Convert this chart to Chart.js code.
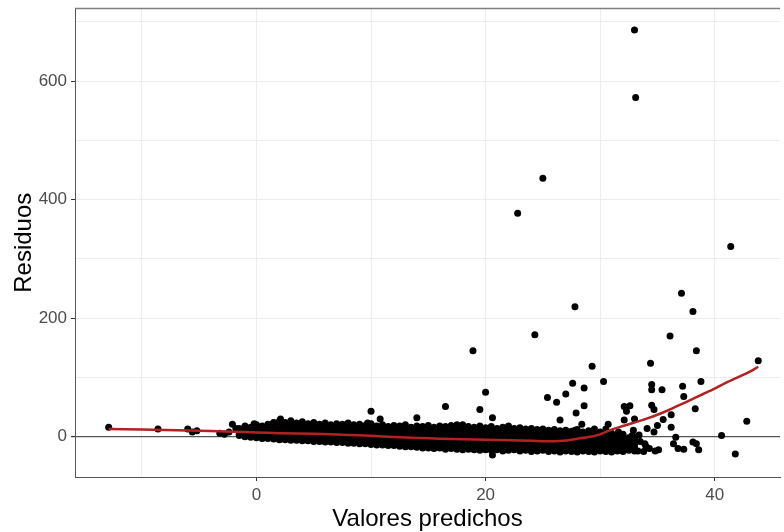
<!DOCTYPE html>
<html>
<head>
<meta charset="utf-8">
<script src="https://cdn.jsdelivr.net/npm/chart.js@4.4.1/dist/chart.umd.min.js"></script>
<style>
    html, body { margin: 0; padding: 0; background: #fff; }
</style>
</head>
<body>
<canvas id="residualChart" width="784" height="532"></canvas>
<script>
// ticks and grid
const xGridValues = [-10, 0, 10, 20, 30, 40];
const xTickLabels = [0, 20, 40];
const yGridValues = [0, 100, 200, 300, 400, 500, 600, 700];
const yTickLabels = [0, 200, 400, 600];

// dense band of residuals
const bandX = [-1.5, -1, -0.5, 0, 0.5, 1, 1.5, 2, 2.5, 3,
    3.5, 4, 4.5, 5, 5.5, 6, 6.5, 7, 7.5, 8,
    8.5, 9, 9.5, 10, 10.5, 11, 11.5, 12, 12.5, 13,
    13.5, 14, 14.5, 15, 15.5, 16, 16.5, 17, 17.5, 18,
    18.5, 19, 19.5, 20, 20.5, 21, 21.5, 22, 22.5, 23,
    23.5, 24, 24.5, 25, 25.5, 26, 26.5, 27, 27.5, 28,
    28.5, 29, 29.5, 30, 30.5, 31, 31.5, 32, 32.5, 33];
const bandTop = [14, 18, 16, 20, 18, 21, 24, 26, 24, 27,
    23, 25, 22, 24, 21, 23, 20, 22, 21, 23,
    20, 21, 19, 22, 18, 20, 17, 19, 18, 20,
    16, 18, 17, 19, 16, 18, 17, 19, 16, 20,
    17, 16, 18, 15, 17, 14, 16, 18, 14, 15,
    13, 14, 12, 13, 11, 12, 10, 11, 9, 12,
    8, 10, 7, 8, 5, 6, 2, 4, -2, 0];
const bandRow2 = [12, 14, 13, 16, 14, 16, 18, 20, 18, 20,
    17, 19, 16, 18, 15, 17, 14, 16, 15, 16,
    14, 14, 13, 15, 12, 13, 11, 12, 11, 13,
    9, 11, 10, 11, 9, 11, 9, 11, 9, 12,
    9, 8, 10, 8, 9, 7, 8, 10, 7, 7,
    6, 6, 5, 6, 4, 5, 3, 4, 2, 4,
    2, 3, 0, 2, -1, 0, -3, -2, -6, -5];
const bandRow3 = [9, 11, 9, 11, 10, 11, 13, 14, 12, 14,
    11, 12, 10, 11, 9, 10, 8, 9, 9, 9,
    8, 8, 7, 8, 5, 6, 4, 5, 4, 5,
    3, 4, 3, 4, 2, 3, 2, 3, 1, 3,
    2, 1, 2, 0, 1, 0, 0, 2, 0, -1,
    -1, -2, -2, -1, -3, -2, -4, -3, -5, -3,
    -5, -4, -6, -5, -7, -7, -8, -8, -10, -10];
const bandRow4 = [7, 7, 6, 7, 5, 7, 7, 7, 7, 7,
    6, 6, 5, 5, 4, 4, 3, 3, 2, 3,
    1, 1, 0, 1, -1, 0, -2, -1, -2, -2,
    -4, -4, -5, -4, -6, -4, -6, -4, -6, -5,
    -6, -7, -7, -7, -7, -8, -8, -7, -8, -8,
    -9, -9, -10, -9, -11, -10, -12, -10, -11, -11,
    -11, -11, -13, -11, -13, -13, -14, -13, -15, -14];
const bandRow5 = [4, 4, 2, 2, 1, 2, 2, 1, 1, 1,
    0, -1, -1, -2, -2, -3, -3, -4, -4, -4,
    -5, -5, -6, -6, -8, -7, -9, -8, -9, -10,
    -10, -11, -12, -11, -13, -12, -13, -12, -14, -14,
    -13, -14, -15, -15, -15, -15, -16, -15, -15, -16,
    -16, -17, -17, -16, -18, -17, -19, -17, -18, -18,
    -18, -18, -19, -18, -19, -20, -19, -19, -19, -19];
const bandBottom = [2, 0, -1, -2, -3, -3, -4, -5, -5, -6,
    -6, -7, -7, -8, -8, -9, -9, -10, -10, -11,
    -11, -12, -12, -13, -14, -14, -15, -15, -16, -17,
    -17, -18, -19, -19, -20, -19, -21, -20, -21, -22,
    -21, -22, -23, -22, -23, -22, -24, -23, -22, -24,
    -23, -25, -24, -23, -25, -24, -26, -24, -25, -26,
    -24, -25, -26, -24, -25, -26, -24, -25, -23, -24];

// scattered points away from the band
const outlierX = [-12.9, -8.6, -6.0, -5.6, -5.2, -3.2, -2.8, -2.4, -2.1, -1.8,
    -0.2, 0.4, 1.5, 2.1, 9.7, 10.0, 10.8, 14.0, 16.5, 17.5,
    18.9, 19.5, 20.0, 20.6, 20.6, 22.8, 24.3, 25.0, 25.4, 26.2,
    26.5, 27.0, 27.6, 27.8, 27.8, 27.9, 28.4, 28.6, 28.6, 29.3,
    29.5, 30.3, 30.5, 30.7, 30.8, 31.6, 32.1, 32.6, 32.3, 32.1,
    33.0, 32.9, 32.8, 33.0, 33.1, 33.3, 33.4, 33.5, 33.8, 33.9,
    34.0, 34.1, 34.3, 34.4, 34.5, 34.5, 34.5, 34.7, 34.7, 34.8,
    35.0, 35.1, 35.4, 35.5, 36.1, 36.2, 36.2, 36.4, 36.6, 36.8,
    37.1, 37.2, 37.3, 37.3, 38.1, 38.1, 38.3, 38.4, 38.4, 38.6,
    38.8, 40.6, 41.4, 41.8, 42.8, 43.8];
const outlierY = [16, 13, 13, 8, 10, 6, 4, 8, 21, 14,
    22, 15, 23, 30, 23, 43, 30, 32, 51, 20,
    145, 46, 75, 32, -31, 377, 172, 436, 66, 58,
    28, 72, 90, 219, 11, 40, 21, 82, 52, 119,
    13, 93, 13, 21, -2, 8, 51, 52, 43, 28,
    30, 11, 2, 686, 572, -24, 3, -8, -25, -12,
    -16, 14, -20, 124, 88, 79, 53, 46, 8, -24,
    19, -22, 79, 29, 170, 37, 16, -12, -1, -20,
    242, 85, 68, -21, 211, -9, 47, 145, -12, -22,
    93, 2, 321, -29, 26, 128];

// smoothed trend (red line)
const loessX = [-12.9, -10, -6, -2, 0, 2, 5, 8, 10, 12, 14, 16, 18, 20, 22, 24, 25, 26, 27, 28,
    29, 30, 31, 32, 33, 34, 35, 36, 37, 38, 39, 40, 41, 42, 43, 43.8];
const loessY = [13, 12, 10.5, 8.5, 7, 6, 5, 3, 1.5, -0.5, -2, -3.5, -4.5, -5, -6, -7, -7.5, -7.5, -6.5, -3.5,
    -0.5, 4, 12, 18, 24, 30, 37, 45, 54, 63, 72, 81, 91, 100, 109, 118];

const residualPoints = [];
[bandTop, bandRow2, bandRow3, bandRow4, bandRow5, bandBottom].forEach(row => {
    row.forEach((y, i) => residualPoints.push({ x: bandX[i], y: y }));
});
outlierX.forEach((x, i) => residualPoints.push({ x: x, y: outlierY[i] }));

const loessPoints = loessX.map((x, i) => ({ x: x, y: loessY[i] }));

// top edge of the panel
const panelTop = {
    id: 'panelTop',
    beforeDatasetsDraw(chart) {
        const { ctx, chartArea } = chart;
        ctx.save();
        ctx.strokeStyle = '#808080';
        ctx.lineWidth = 1.5;
        ctx.beginPath();
        ctx.moveTo(chartArea.left, chartArea.top);
        ctx.lineTo(chartArea.right, chartArea.top);
        ctx.stroke();
        ctx.restore();
    }
};

Chart.defaults.font.family = '"Liberation Sans", Arial, sans-serif';

function createResidualChart() {
    const ctx = document.getElementById('residualChart').getContext('2d');
    new Chart(ctx, {
        type: 'scatter',
        data: {
            datasets: [{
                type: 'line',
                data: loessPoints,
                borderColor: '#B22222',
                borderWidth: 2.5,
                pointRadius: 0,
                fill: false,
                tension: 0.2,
                order: 0
            }, {
                data: residualPoints,
                backgroundColor: '#000000',
                borderWidth: 0,
                pointRadius: 3.5,
                order: 1
            }]
        },
        options: {
            responsive: false,
            animation: false,
            layout: { padding: { top: 8.5, right: 0, bottom: 0, left: 0 } },
            plugins: {
                legend: { display: false },
                tooltip: { enabled: false }
            },
            scales: {
                x: {
                    type: 'linear',
                    min: -15.84,
                    max: 45.7,
                    afterBuildTicks: s => { s.ticks = xGridValues.map(v => ({ value: v })); },
                    afterFit: s => { s.height = 55; s.paddingLeft = 0; s.paddingRight = 0; },
                    ticks: {
                        autoSkip: false,
                        maxRotation: 0,
                        padding: 4,
                        color: '#4d4d4d',
                        font: { size: 17 },
                        callback: v => xTickLabels.includes(v) ? String(v) : ''
                    },
                    grid: {
                        color: '#ededed',
                        lineWidth: 1,
                        tickLength: 4,
                        tickColor: c => xTickLabels.includes(c.tick.value) ? '#333333' : 'rgba(0,0,0,0)'
                    },
                    border: { display: true, color: '#555555', width: 1 },
                    title: {
                        display: true,
                        text: 'Valores predichos',
                        color: '#000000',
                        font: { size: 24 },
                        padding: { top: 0, bottom: -2 }
                    }
                },
                y: {
                    type: 'linear',
                    min: -68,
                    max: 722.3,
                    afterBuildTicks: s => { s.ticks = yGridValues.map(v => ({ value: v })); },
                    afterFit: s => { s.width = 75; s.paddingTop = 0; s.paddingBottom = 0; },
                    ticks: {
                        autoSkip: false,
                        padding: 4,
                        color: '#4d4d4d',
                        font: { size: 17 },
                        callback: v => yTickLabels.includes(v) ? String(v) : ''
                    },
                    grid: {
                        color: c => c.tick && c.tick.value === 0 ? '#555555' : '#ededed',
                        lineWidth: c => c.tick && c.tick.value === 0 ? 1.2 : 1,
                        tickLength: 4,
                        tickColor: c => yTickLabels.includes(c.tick.value) ? '#333333' : 'rgba(0,0,0,0)'
                    },
                    border: { display: true, color: '#555555', width: 1 },
                    title: {
                        display: true,
                        text: 'Residuos',
                        color: '#000000',
                        font: { size: 24 },
                        padding: { top: 10, bottom: 0 }
                    }
                }
            }
        },
        plugins: [panelTop]
    });
}

document.addEventListener('DOMContentLoaded', createResidualChart);
</script>
</body>
</html>
